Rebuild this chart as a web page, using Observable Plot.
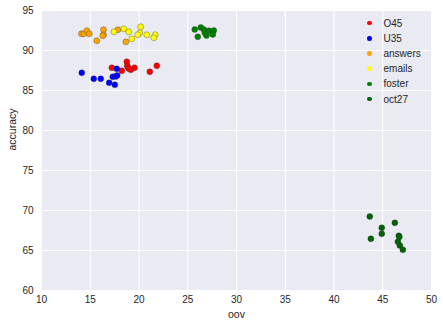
<!DOCTYPE html>
<html>
<head>
<meta charset="utf-8">
<script src="https://cdn.jsdelivr.net/npm/d3@7"></script>
<script src="https://cdn.jsdelivr.net/npm/@observablehq/plot@0.6"></script>
<style>
body { margin: 0; background: #fff; font-family: "Liberation Sans", Arial, sans-serif; }
#wrap { position: relative; width: 443px; height: 328px; }
#legend { position: absolute; left: 364px; top: 15.5px; font-size: 10px; color: #262626; }
#legend .row { display: flex; align-items: center; height: 15.2px; }
#legend .sw { width: 4.5px; height: 4.5px; border-radius: 50%; margin-right: 12px; margin-left: 3px; }
</style>
</head>
<body>
<div id="wrap"><div id="legend"></div></div>
<script>
const seriesNames = ["O45", "U35", "answers", "emails", "foster", "oct27"];
const seriesColors = ["#ff0000", "#0000ff", "#ffa500", "#ffff00", "#008000", "#006400"];

const O45_oov = [17.21, 18.75, 18.79, 18.89, 18.24, 19.16, 19.54, 18.99, 21.83, 21.11];
const O45_acc = [87.84, 88.59, 88.09, 87.84, 87.46, 87.59, 87.84, 87.71, 88.09, 87.34];

const U35_oov = [14.13, 15.36, 16.08, 16.94, 17.31, 17.62, 17.76, 17.52, 17.72];
const U35_acc = [87.21, 86.46, 86.46, 85.96, 86.71, 86.75, 86.88, 85.71, 87.71];

const answers_oov = [14.1, 14.34, 14.65, 14.9, 15.67, 16.36, 16.36, 16.29, 17.83, 18.65];
const answers_acc = [92.09, 92.09, 92.46, 92.09, 91.21, 92.6, 91.96, 91.84, 92.59, 91.08];

const emails_oov = [17.42, 18.44, 18.95, 19.26, 20.18, 20.08, 19.88, 20.8, 21.66, 21.52];
const emails_acc = [92.33, 92.71, 92.33, 91.46, 92.96, 92.21, 91.96, 91.96, 91.96, 91.59];

const foster_oov = [25.72, 26.34, 26.03, 26.65, 27.16, 27.67, 26.92, 27.57, 26.75];
const foster_acc = [92.63, 92.88, 91.71, 92.63, 92.46, 92.5, 91.88, 92.0, 92.21];

const oct27_oov = [43.67, 43.78, 44.9, 44.9, 46.24, 46.65, 46.7, 46.55, 46.75, 47.06];
const oct27_acc = [69.25, 66.46, 67.84, 67.09, 68.46, 66.84, 66.7, 66.09, 65.63, 65.09];

const xTicks = [10, 15, 20, 25, 30, 35, 40, 45, 50];
const yTicks = [60, 65, 70, 75, 80, 85, 90, 95];

const groups = [
  [O45_oov, O45_acc], [U35_oov, U35_acc], [answers_oov, answers_acc],
  [emails_oov, emails_acc], [foster_oov, foster_acc], [oct27_oov, oct27_acc]
];
const rows = [];
groups.forEach(([xs, ys], i) => xs.forEach((x, j) => rows.push({oov: x, accuracy: ys[j], series: seriesNames[i]})));

const chart = Plot.plot({
  width: 443,
  height: 328,
  marginLeft: 41,
  marginRight: 12,
  marginTop: 10,
  marginBottom: 38,
  style: { fontFamily: "'Liberation Sans', Arial, sans-serif", fontSize: "10px", color: "#262626", background: "#fff" },
  x: { domain: [10, 50], ticks: xTicks, label: null },
  y: { domain: [60, 95], ticks: yTicks, label: null },
  color: { domain: seriesNames, range: seriesColors },
  marks: [
    Plot.frame({ fill: "#eaeaf2", stroke: null }),
    Plot.gridX(xTicks, { stroke: "#fff", strokeOpacity: 1, strokeWidth: 1 }),
    Plot.gridY(yTicks, { stroke: "#fff", strokeOpacity: 1, strokeWidth: 1 }),
    Plot.axisX(xTicks, { tickSize: 0, tickPadding: 5, fontSize: 10, label: null }),
    Plot.axisY(yTicks, { tickSize: 0, tickPadding: 8, fontSize: 10, label: null }),
    Plot.dot(rows, { x: "oov", y: "accuracy", fill: "series", r: 3, stroke: "#333", strokeWidth: 0.35 }),
    Plot.text(["oov"], { frameAnchor: "bottom", dy: 27, text: d => d, fontSize: 10.5, fill: "#262626" }),
    Plot.text(["accuracy"], { frameAnchor: "left", dx: -29, rotate: -90, text: d => d, fontSize: 10.5, fill: "#262626" })
  ]
});
const wrap = document.getElementById("wrap");
wrap.insertBefore(chart, wrap.firstChild);

const legend = document.getElementById("legend");
seriesNames.forEach((name, i) => {
  const row = document.createElement("div");
  row.className = "row";
  const sw = document.createElement("span");
  sw.className = "sw";
  sw.style.background = seriesColors[i];
  const t = document.createElement("span");
  t.textContent = name;
  row.appendChild(sw);
  row.appendChild(t);
  legend.appendChild(row);
});
</script>
</body>
</html>
